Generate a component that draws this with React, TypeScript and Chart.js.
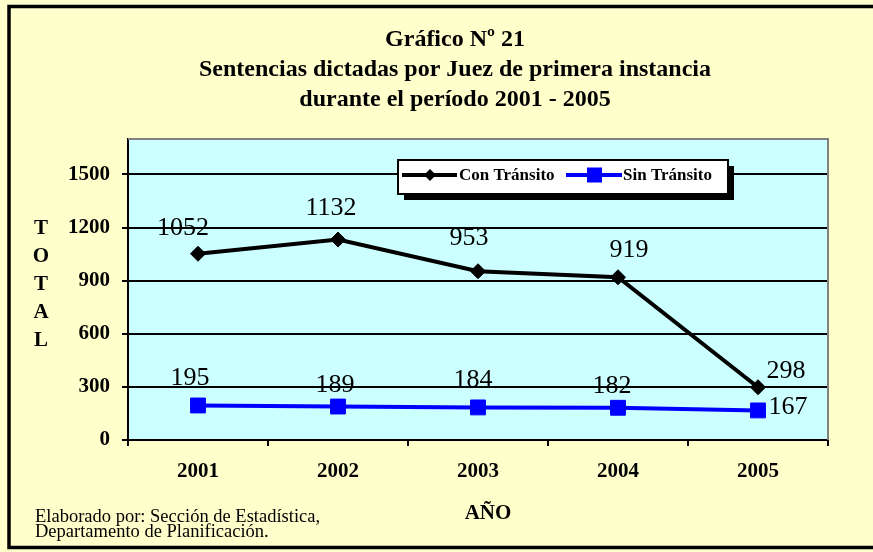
import React, { useEffect, useRef } from "react";
import { Chart, registerables } from "chart.js";

Chart.register(...registerables);

// ---- data ----
const YEARS = ["2001", "2002", "2003", "2004", "2005"];
const CON_TRANSITO = [1052, 1132, 953, 919, 298];
const SIN_TRANSITO = [195, 189, 184, 182, 167];
const Y_TICKS = [0, 300, 600, 900, 1200, 1500];
const SERIES_NAMES = ["Con Tránsito", "Sin Tránsito"];
const TITLE_LINES = [
  "Gráfico Nº 21",
  "Sentencias dictadas por Juez de primera instancia",
  "durante el período 2001 - 2005",
];
const Y_TITLE = "TOTAL";
const X_TITLE = "AÑO";
const CREDITS = ["Elaborado por: Sección de Estadística,", "Departamento de Planificación."];

// ---- style ----
const FONT = '"Liberation Serif", "Times New Roman", serif';
const BG = "#FFFFCC";
const PLOT_BG = "#CCFFFF";
const LABEL_OFFSETS_CON = [[-15, -26], [-7, -31], [-9, -33], [11, -27], [28, -16]];
const LABEL_OFFSETS_SIN = [[-8, -27], [-3, -21], [-5, -27], [-6, -22], [30, -3]];

const decor = {
  id: "decor",
  beforeDraw(chart: any) {
    const { ctx, chartArea: a } = chart;
    ctx.save();
    ctx.fillStyle = BG;
    ctx.fillRect(0, 0, chart.width, chart.height);
    ctx.fillStyle = PLOT_BG;
    ctx.fillRect(a.left, a.top, a.right - a.left, a.bottom - a.top);
    ctx.strokeStyle = "#000";
    ctx.lineWidth = 3.5;
    ctx.strokeRect(9, 6.5, 900, 541);
    ctx.fillStyle = "#000";
    ctx.textAlign = "center";
    ctx.textBaseline = "middle";
    ctx.font = `bold 24px ${FONT}`;
    TITLE_LINES.forEach((t, i) => ctx.fillText(t, 455, 40 + 30 * i));
    ctx.font = `bold 21px ${FONT}`;
    Y_TITLE.split("").forEach((c, i) => ctx.fillText(c, 41, 229 + 28 * i));
    ctx.fillText(X_TITLE, 488, 514);
    ctx.textAlign = "left";
    ctx.textBaseline = "alphabetic";
    ctx.font = `18.5px ${FONT}`;
    ctx.fillText(CREDITS[0], 35, 522);
    ctx.fillText(CREDITS[1], 35, 537);
    ctx.restore();
  },
  afterDatasetsDraw(chart: any) {
    const { ctx } = chart;
    ctx.save();
    ctx.fillStyle = "#000";
    ctx.textAlign = "center";
    ctx.textBaseline = "middle";
    ctx.font = `26px ${FONT}`;
    const sets = [
      { data: CON_TRANSITO, off: LABEL_OFFSETS_CON },
      { data: SIN_TRANSITO, off: LABEL_OFFSETS_SIN },
    ];
    sets.forEach((s, di) => {
      const meta = chart.getDatasetMeta(di);
      meta.data.forEach((pt: any, i: number) => {
        ctx.fillText(String(s.data[i]), pt.x + s.off[i][0], pt.y + s.off[i][1]);
      });
    });
    ctx.restore();
  },
  afterDraw(chart: any) {
    const { ctx, chartArea: a } = chart;
    ctx.save();
    // grey plot border top/right
    ctx.strokeStyle = "#808080";
    ctx.lineWidth = 2;
    ctx.beginPath();
    ctx.moveTo(a.left, a.top);
    ctx.lineTo(a.right, a.top);
    ctx.lineTo(a.right, a.bottom);
    ctx.stroke();
    // legend
    const lx = 398, ly = 160, lw = 330, lh = 34;
    ctx.fillStyle = "#000";
    ctx.fillRect(lx + 6, ly + 6, lw, lh);
    ctx.fillStyle = "#FFFFFF";
    ctx.fillRect(lx, ly, lw, lh);
    ctx.strokeStyle = "#000";
    ctx.lineWidth = 2;
    ctx.strokeRect(lx, ly, lw, lh);
    const cy = 175;
    ctx.strokeStyle = "#000";
    ctx.lineWidth = 4;
    ctx.beginPath();
    ctx.moveTo(402, cy);
    ctx.lineTo(457, cy);
    ctx.stroke();
    ctx.fillStyle = "#000";
    ctx.beginPath();
    ctx.moveTo(430, cy - 6);
    ctx.lineTo(436, cy);
    ctx.lineTo(430, cy + 6);
    ctx.lineTo(424, cy);
    ctx.closePath();
    ctx.fill();
    ctx.strokeStyle = "#0000FF";
    ctx.beginPath();
    ctx.moveTo(566, cy);
    ctx.lineTo(622, cy);
    ctx.stroke();
    ctx.fillStyle = "#0000FF";
    ctx.fillRect(587, cy - 7.5, 15, 15);
    ctx.fillStyle = "#000";
    ctx.font = `bold 17px ${FONT}`;
    ctx.textAlign = "left";
    ctx.textBaseline = "middle";
    ctx.fillText(SERIES_NAMES[0], 459, cy + 1);
    ctx.fillText(SERIES_NAMES[1], 623, cy + 1);
    ctx.restore();
  },
};

export default function App() {
  const ref = useRef<HTMLCanvasElement | null>(null);
  useEffect(() => {
    document.body.style.margin = "0";
    const canvas = ref.current!;
    const chart = new Chart(canvas, {
      type: "line",
      data: {
        labels: YEARS,
        datasets: [
          {
            label: SERIES_NAMES[0],
            data: CON_TRANSITO,
            borderColor: "#000000",
            backgroundColor: "#000000",
            borderWidth: 4,
            tension: 0,
            pointStyle: "rectRot",
            pointRadius: 7.5,
            pointBackgroundColor: "#000000",
            pointBorderColor: "#000000",
            pointBorderWidth: 1,
          },
          {
            label: SERIES_NAMES[1],
            data: SIN_TRANSITO,
            borderColor: "#0000FF",
            backgroundColor: "#0000FF",
            borderWidth: 4,
            tension: 0,
            pointStyle: "rect",
            pointRadius: 10.5,
            pointBackgroundColor: "#0000FF",
            pointBorderColor: "#0000FF",
            pointBorderWidth: 1,
          },
        ],
      },
      options: {
        responsive: false,
        animation: false,
        devicePixelRatio: 1,
        layout: { padding: { top: 139, right: 45, left: 0, bottom: 0 } },
        plugins: {
          legend: { display: false },
          tooltip: { enabled: false },
          title: { display: false },
        },
        scales: {
          x: {
            type: "category",
            offset: true,
            grid: {
              offset: true,
              drawOnChartArea: false,
              drawTicks: true,
              tickLength: 6,
              color: "#000",
              lineWidth: 2,
            },
            border: { display: true, color: "#000", width: 2 },
            ticks: {
              color: "#000",
              font: { family: FONT, size: 21, weight: "bold" },
              padding: 13,
              maxRotation: 0,
            },
            afterFit(scale: any) {
              scale.height = 112;
            },
          },
          y: {
            min: 0,
            max: 1700,
            afterBuildTicks(scale: any) {
              scale.ticks = Y_TICKS.map((v) => ({ value: v }));
            },
            grid: {
              color: "#000",
              lineWidth: 2,
              drawTicks: true,
              tickLength: 6,
            },
            border: { display: true, color: "#000", width: 2 },
            ticks: {
              color: "#000",
              font: { family: FONT, size: 21, weight: "bold" },
              padding: 12,
              callback: (v: any) => String(v),
            },
            afterFit(scale: any) {
              scale.width = 128;
            },
          },
        },
      },
      plugins: [decor],
    } as any);
    return () => chart.destroy();
  }, []);
  return (
    <div style={{ width: 873, height: 552 }}>
      <canvas ref={ref} width={873} height={552} style={{ display: "block" }} />
    </div>
  );
}
